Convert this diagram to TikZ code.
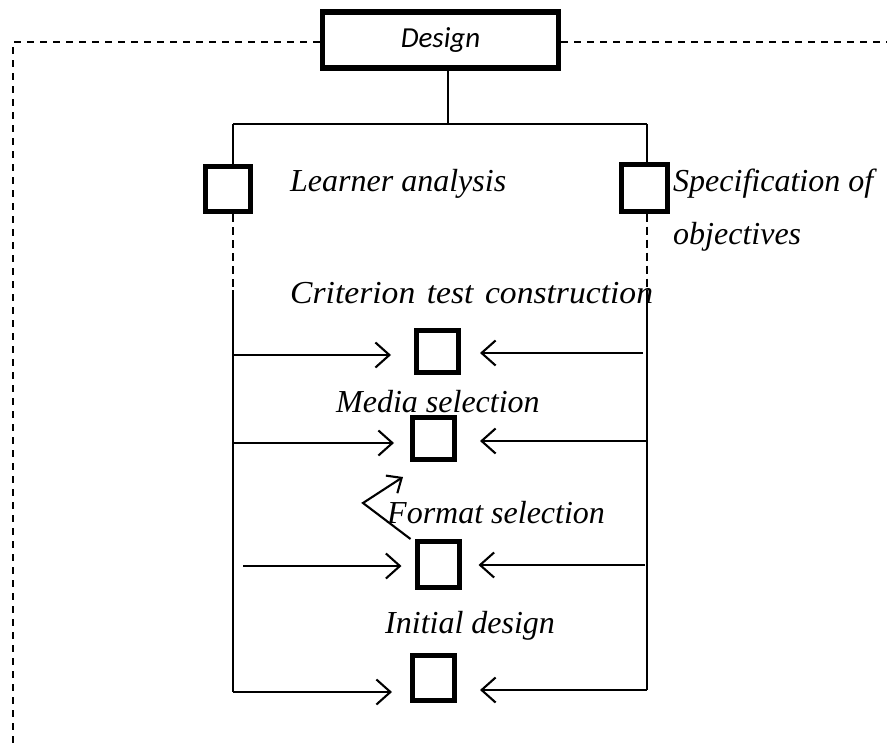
\documentclass[tikz,border=0pt]{standalone}
\usepackage{fontspec}
\setmainfont{Liberation Serif}
\newfontfamily\calib{Carlito}
\usetikzlibrary{arrows.meta}
\begin{document}
\begin{tikzpicture}[x=1pt,y=-1pt,
  thin line/.style={line width=2.1pt},
  frame/.style={line width=2.1pt, dash pattern=on 7pt off 6pt},
  vdash/.style={line width=2.1pt, dash pattern=on 8pt off 5pt},
  sqbox/.style={draw, line width=5pt, minimum size=42pt, inner sep=0pt},
  lbl/.style={font=\fontsize{32}{36}\selectfont\itshape, anchor=base west, inner sep=0pt},
  arr/.style={line width=2.1pt, -{Straight Barb[length=14pt,width=25pt,line width=2.1pt]}},
  ]
\useasboundingbox (0,0) rectangle (892,749);
\fill[white] (0,0) rectangle (892,749);
% Design box
\node[draw, line width=5.5pt, minimum width=236pt, minimum height=56pt, inner sep=0pt,
      font=\calib\fontsize{29}{32}\selectfont\itshape] (design) at (440.5,40) {Design};
% outer dashed frame
\coordinate (fl) at (13,42);
\coordinate (fr) at (887,42);
\coordinate (fb) at (13,749);
\draw[frame] (design.west |- fl) -- (fl) -- (fb);
\draw[frame] (design.east |- fr) -- (fr);
% top boxes
\node[sqbox, minimum size=45pt] (L) at (228,189) {};
\node[sqbox, minimum size=46pt] (R) at (644,188) {};
% tree
\coordinate (t) at (448,124);
\coordinate (tl) at (233,124);
\coordinate (tr) at (647,124);
\draw[thin line] (design.south -| t) -- (t);
\draw[thin line] (tl) -- (tr);
\draw[thin line] (tl) -- (tl |- L.north);
\draw[thin line] (tr) -- (tr |- R.north);
\coordinate (ld) at (233,290);
\coordinate (rd) at (647,290);
\draw[vdash] (tl |- L.south) -- (ld);
\draw[vdash] (tr |- R.south) -- (rd);
\coordinate (lb) at (233,692);
\coordinate (rb) at (647,690);
\draw[thin line] (ld) -- (lb);
\draw[thin line] (rd) -- (rb);
% middle boxes
\node[sqbox] (b1) at (437.5,351.5) {};
\node[sqbox] (b2) at (433.5,438.5) {};
\node[sqbox, minimum height=46pt] (b3) at (438,564.5) {};
\node[sqbox, minimum height=45pt] (b4) at (433.5,678) {};
% arrows
\coordinate (l1) at (233,355); \coordinate (r1) at (643,353);
\coordinate (l2) at (233,443); \coordinate (r2) at (647,441);
\coordinate (l3) at (243,566); \coordinate (r3) at (645,565);
\coordinate (r4) at (647,690);
\draw[arr] (l1) -- ([xshift=-23pt]b1.west |- l1);
\draw[arr] (r1) -- ([xshift=19pt]b1.east |- r1);
\draw[arr] (l2) -- ([xshift=-16pt]b2.west |- l2);
\draw[arr] (r2) -- ([xshift=23pt]b2.east |- r2);
\draw[arr] (l3) -- ([xshift=-13pt]b3.west |- l3);
\draw[arr] (r3) -- ([xshift=17pt]b3.east |- r3);
\draw[arr] (lb) -- ([xshift=-18pt]b4.west |- lb);
\draw[arr] (r4) -- ([xshift=23pt]b4.east |- r4);
% zigzag
\coordinate (zk) at (363,503);
\coordinate (zt) at (403,477);
\draw[line width=2.1pt, -{Straight Barb[length=12pt,width=21pt,line width=2.1pt]}]
  ([xshift=-4pt]b3.north west) -- (zk) -- (zt);
% labels
\node[lbl] (tLA) at (290,191) {Learner analysis};
\node[lbl] (tSO) at (673,191) {Specification of};
\node[lbl] (tOB) at (673,244) {objectives};
\node[lbl, xscale=1.05] (tCT) at (290,303) {Criterion\hspace{3pt} test\hspace{3pt} construction};
\node[lbl] (tMS) at (336,412) {Media selection};
\node[lbl] (tFS) at (387,523) {Format selection};
\node[lbl] (tID) at (385,633) {Initial design};
\end{tikzpicture}
\end{document}
